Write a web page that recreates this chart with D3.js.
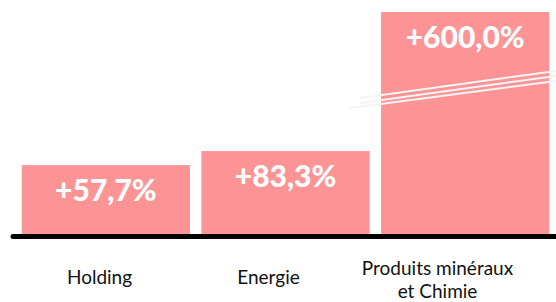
<!DOCTYPE html>
<html>
<head>
<meta charset="utf-8">
<script src="https://cdn.jsdelivr.net/npm/d3@7"></script>
<style>
  body { margin: 0; background: #fff; }
  svg { display: block; }
</style>
</head>
<body>
<svg id="draw"></svg>
<script>
// data
var categories = ["Holding", "Energie", "Produits minéraux et Chimie"];
var values = [57.7, 83.3, 600.0];
// axis is broken: the tallest bar is cut at this value
var axisCap = 337;

var width = 556;
var height = 302;

var svg = d3.select("#draw")
  .attr("width", width)
  .attr("height", height);

var fr = d3.formatLocale({ decimal: ",", thousands: " ", grouping: [3], currency: ["", "€"] });
var fmt = fr.format("+.1f");

var xScale = d3.scaleBand()
  .domain(categories)
  .range([11, 560])
  .paddingInner(0.064)
  .paddingOuter(0.06);

// labels under the bars sit on their own band
var labelScale = d3.scaleBand()
  .domain(categories)
  .range([15, 522])
  .padding(0);

var yScale = d3.scaleLinear()
  .domain([-68, axisCap])
  .range([234, 12])
  .clamp(true);

var data = categories.map(function(c, i) {
  return { name: c, value: values[i] };
});

svg.selectAll(".bar")
  .data(data)
  .enter().append("rect")
  .attr("class", "bar")
  .attr("fill", "#fc9496")
  .attr("x", function(d) { return xScale(d.name); })
  .attr("y", function(d) { return yScale(d.value); })
  .attr("width", xScale.bandwidth())
  .attr("height", function(d) { return yScale(-68) - yScale(d.value); });

// break marks on the cut bar
var last = data[data.length - 1];
var bx = xScale(last.name);
var breakY = yScale(axisCap) + 86;
var offsets = [0, 5, 10];
svg.selectAll(".brk")
  .data(offsets)
  .enter().append("line")
  .attr("class", "brk")
  .attr("x1", function(d, i) { return bx - (i == 2 ? 31 : 21); })
  .attr("y1", function(d) { return breakY + d; })
  .attr("x2", width)
  .attr("y2", function(d) { return breakY + d - 27; })
  .attr("stroke", "#f4f4f4")
  .attr("stroke-width", 2);

svg.selectAll(".val")
  .data(data)
  .enter().append("text")
  .attr("class", "val")
  .attr("x", function(d) { return xScale(d.name) + xScale.bandwidth() / 2; })
  .attr("y", function(d) { return yScale(d.value) + 36; })
  .attr("text-anchor", "middle")
  .attr("fill", "#fff")
  .style("font-family", "Lato, sans-serif")
  .style("font-weight", "900")
  .style("font-size", "30px")
  .text(function(d) { return fmt(d.value) + "%"; });

// baseline
svg.append("line")
  .attr("x1", 13)
  .attr("x2", width + 5)
  .attr("y1", 236.5)
  .attr("y2", 236.5)
  .attr("stroke", "#000")
  .attr("stroke-width", 5)
  .attr("stroke-linecap", "round");

// category labels, wrapped by hand after two words
var lab = svg.selectAll(".cat")
  .data(data)
  .enter().append("text")
  .attr("class", "cat")
  .attr("text-anchor", "middle")
  .attr("fill", "#111")
  .style("font-family", "Lato, sans-serif")
  .style("font-size", "19px");

lab.each(function(d) {
  var t = d3.select(this);
  var cx = labelScale(d.name) + labelScale.bandwidth() / 2;
  var words = d.name.split(" ");
  var lines = words.length > 2 ? [words.slice(0, 2).join(" "), words.slice(2).join(" ")] : [d.name];
  var y0 = lines.length > 1 ? 275 : 284;
  lines.forEach(function(l, i) {
    t.append("tspan")
      .attr("x", cx)
      .attr("y", y0 + i * 23)
      .text(l);
  });
});
</script>
</body>
</html>
